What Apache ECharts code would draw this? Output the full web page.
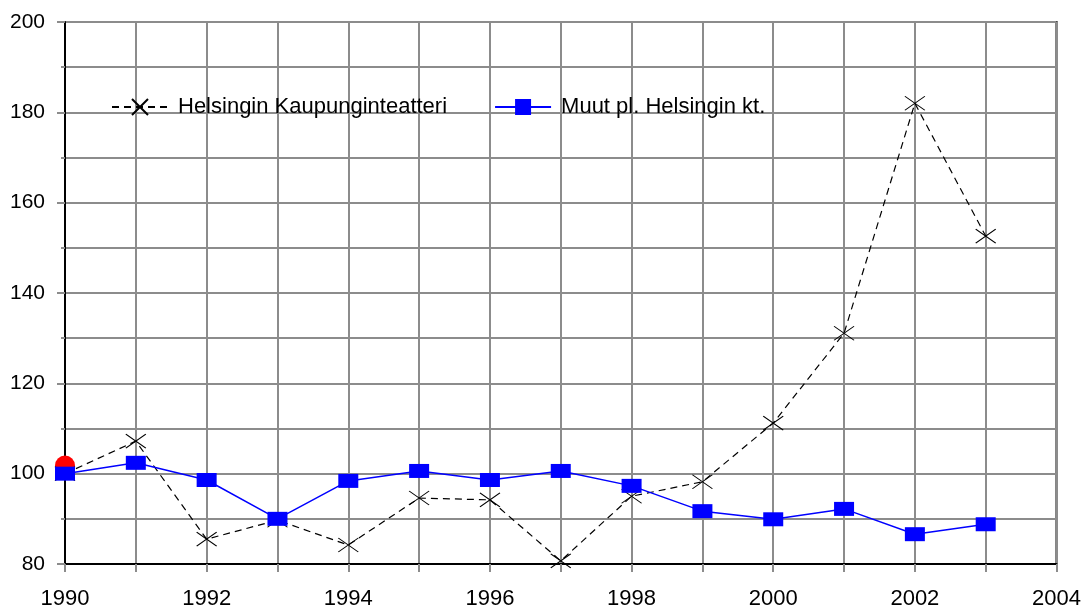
<!DOCTYPE html>
<html>
<head>
<meta charset="utf-8">
<script src="https://cdn.jsdelivr.net/npm/echarts@6/dist/echarts.min.js"></script>
<style>
  html, body { margin: 0; padding: 0; background: #fff; }
  #main { width: 1084px; height: 610px; }
</style>
</head>
<body>
<div id="main"></div>
<script>
// years on the x axis
var years = [1990, 1991, 1992, 1993, 1994, 1995, 1996, 1997, 1998, 1999, 2000, 2001, 2002, 2003];
// index 1990 = 100
var kaupunginteatteri = [100, 107.2, 85.5, 89.7, 84.2, 94.6, 94.2, 80.7, 95.0, 98.2, 111.2, 131.1, 182, 152.6];
var muut = [100, 102.4, 98.6, 90, 98.4, 100.6, 98.6, 100.6, 97.3, 91.7, 89.9, 92.2, 86.6, 88.8];
// red dot behind the first point
var redDot = [[1990, 101.8]];
var seriesNames = ['Helsingin Kaupunginteatteri', 'Muut pl. Helsingin kt.'];

function pairs(xs, ys) {
    return xs.map(function (x, i) { return [x, ys[i]]; });
}

var gridLine = { show: true, lineStyle: { color: '#8c8c8c', width: 2 } };
var font = 'Liberation Sans, Arial, sans-serif';

var myChart = echarts.init(document.getElementById('main'));
var option = {
    animation: false,
    backgroundColor: '#fff',
    textStyle: { fontFamily: font },
    grid: {
        left: 65, right: 23, top: 22, bottom: 46,
        show: true, borderColor: '#000', borderWidth: 2
    },
    legend: {
        data: seriesNames,
        left: 106,
        top: 91,
        itemWidth: 56,
        itemHeight: 20,
        itemGap: 47,
        textStyle: { fontSize: 22, color: '#000', fontFamily: font, padding: [0, 0, 0, 5] }
    },
    xAxis: {
        type: 'value',
        min: 1990,
        max: 2004,
        interval: 2,
        axisLine: { show: true, lineStyle: { color: '#000', width: 2 } },
        axisTick: { show: true, length: 8, lineStyle: { color: '#8c8c8c', width: 2 } },
        minorTick: { show: true, splitNumber: 2, length: 8, lineStyle: { color: '#8c8c8c', width: 2 } },
        splitLine: gridLine,
        minorSplitLine: gridLine,
        axisLabel: {
            fontSize: 22, color: '#000', margin: 24, fontFamily: font,
            formatter: function (v) { return String(v); }
        }
    },
    yAxis: {
        type: 'value',
        min: 80,
        max: 200,
        interval: 20,
        axisLine: { show: true, lineStyle: { color: '#000', width: 2 } },
        axisTick: { show: true, length: 8, lineStyle: { color: '#8c8c8c', width: 2 } },
        minorTick: { show: true, splitNumber: 2, length: 4, lineStyle: { color: '#8c8c8c', width: 2 } },
        splitLine: gridLine,
        minorSplitLine: gridLine,
        axisLabel: { fontSize: 21, color: '#000', margin: 20, fontFamily: font }
    },
    series: [
        {
            name: '',
            type: 'line',
            data: redDot,
            symbol: 'circle',
            symbolSize: 20,
            itemStyle: { color: '#ff0000' },
            z: 1
        },
        {
            name: seriesNames[0],
            type: 'line',
            data: pairs(years, kaupunginteatteri),
            symbol: 'path://M0,0L20,14M20,0L0,14',
            symbolSize: [20, 14],
            showAllSymbol: true,
            itemStyle: { color: 'transparent', borderColor: '#000', borderWidth: 1 },
            lineStyle: { color: '#000', width: 1.2, type: [7, 5] },
            z: 2
        },
        {
            name: seriesNames[1],
            type: 'line',
            data: pairs(years, muut),
            symbol: 'rect',
            symbolSize: [20, 14],
            showAllSymbol: true,
            itemStyle: { color: '#0000ff' },
            lineStyle: { color: '#0000ff', width: 1.5 },
            z: 3
        }
    ]
};
myChart.setOption(option);
</script>
</body>
</html>
